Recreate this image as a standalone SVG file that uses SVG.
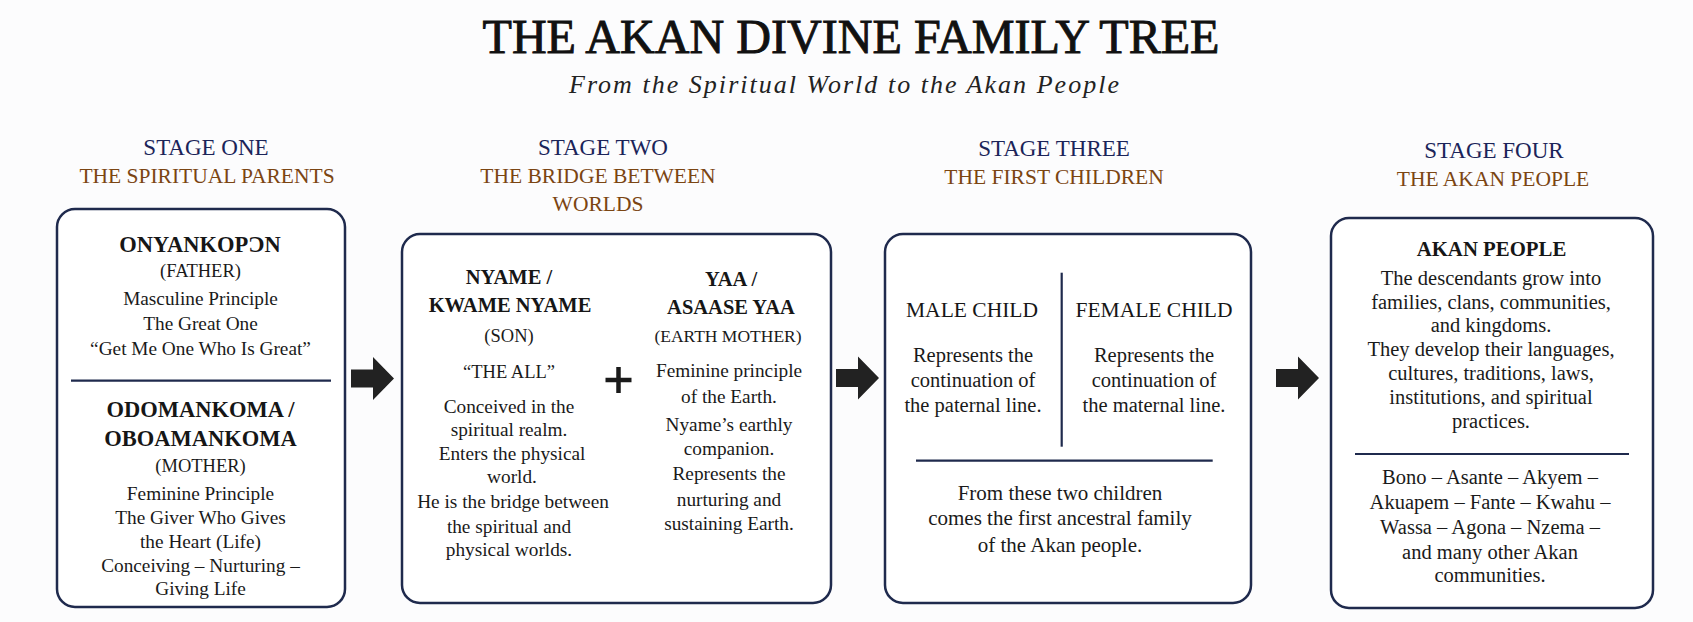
<svg xmlns="http://www.w3.org/2000/svg" width="1693" height="622" viewBox="0 0 1693 622">
<defs>
<style>
.bg{fill:#fcfcfd}
.box{fill:#ffffff;stroke:#1f2a4d;stroke-width:2.5}
.div{stroke:#1f2a4d;stroke-width:2.2}
.t{font-family:"Liberation Serif","Times New Roman",serif;text-anchor:middle;fill:#1a1a1a}
.title{font-size:47.5px;fill:#111;stroke:#111;stroke-width:0.9}
.sub{font-size:26px;font-style:italic;fill:#222}
.sn{font-size:23px;fill:#1b2459}
.st{font-size:21.5px;fill:#7b4512}
.nm{font-size:22.5px;font-weight:bold;fill:#161616}
.nm2{font-size:20.5px;font-weight:bold;fill:#161616}
.par{font-size:18.5px}
.b{font-size:19.3px}
.b2{font-size:20.5px}
.hd{font-size:21.5px;fill:#161616}
.arr{fill:#222}
</style>
<path id="arrow" d="M0,-9 H22 V-21.5 L43,0 L22,21.5 V9 H0 Z"/>
</defs>
<rect class="bg" x="0" y="0" width="1693" height="622"/>

<g id="header">
<text class="t title" x="851" y="53.3" textLength="737" lengthAdjust="spacingAndGlyphs">THE AKAN DIVINE FAMILY TREE</text>
<text class="t sub" x="844" y="92.5" textLength="550" lengthAdjust="spacing">From the Spiritual World to the Akan People</text>
</g>

<g id="stage-labels">
<text class="t sn" x="206" y="155">STAGE ONE</text>
<text class="t st" x="207" y="183">THE SPIRITUAL PARENTS</text>
<text class="t sn" x="603" y="155">STAGE TWO</text>
<text class="t st" x="598" y="183">THE BRIDGE BETWEEN</text>
<text class="t st" x="598" y="211">WORLDS</text>
<text class="t sn" x="1054" y="156">STAGE THREE</text>
<text class="t st" x="1054" y="184">THE FIRST CHILDREN</text>
<text class="t sn" x="1494" y="158">STAGE FOUR</text>
<text class="t st" x="1493" y="186">THE AKAN PEOPLE</text>
</g>

<g id="node-stage1">
<rect class="box" x="57" y="209" width="288" height="398" rx="18"/>
<text class="t nm" x="200" y="251.5">ONYANKOPƆN</text>
<text class="t par" x="200.5" y="277">(FATHER)</text>
<text class="t b" x="200.5" y="305">Masculine Principle</text>
<text class="t b" x="200.5" y="330">The Great One</text>
<text class="t b" x="200.5" y="355">“Get Me One Who Is Great”</text>
<line class="div" x1="71" y1="380.7" x2="331" y2="380.7"/>
<text class="t nm" x="200.5" y="416.5">ODOMANKOMA /</text>
<text class="t nm" x="200.5" y="446">OBOAMANKOMA</text>
<text class="t par" x="200.5" y="471.5">(MOTHER)</text>
<text class="t b" x="200.5" y="500">Feminine Principle</text>
<text class="t b" x="200.5" y="524">The Giver Who Gives</text>
<text class="t b" x="200.5" y="547.5">the Heart (Life)</text>
<text class="t b" x="200.5" y="571.5">Conceiving – Nurturing –</text>
<text class="t b" x="200.5" y="594.5">Giving Life</text>
</g>

<g id="node-stage2">
<rect class="box" x="402" y="234" width="429" height="369" rx="18"/>
<text class="t nm2" x="509" y="283.5">NYAME /</text>
<text class="t nm2" x="510" y="311.5">KWAME NYAME</text>
<text class="t par" x="509" y="341.5">(SON)</text>
<text class="t par" x="509" y="378">“THE ALL”</text>
<text class="t b" x="509" y="412.5">Conceived in the</text>
<text class="t b" x="509" y="435.5">spiritual realm.</text>
<text class="t b" x="512" y="460">Enters the physical</text>
<text class="t b" x="512" y="483">world.</text>
<text class="t b" x="513" y="508">He is the bridge between</text>
<text class="t b" x="509" y="532.5">the spiritual and</text>
<text class="t b" x="509" y="556">physical worlds.</text>
<path d="M618.5,367 V393 M605.5,380 H631.5" stroke="#1a1a1a" stroke-width="4.5" fill="none"/>
<text class="t nm2" x="731" y="285.5">YAA /</text>
<text class="t nm2" x="731" y="314">ASAASE YAA</text>
<text class="t par" x="728" y="341.5" style="font-size:17.5px">(EARTH MOTHER)</text>
<text class="t b" x="729" y="377">Feminine principle</text>
<text class="t b" x="729" y="402.5">of the Earth.</text>
<text class="t b" x="729" y="430.5">Nyame’s earthly</text>
<text class="t b" x="729" y="455">companion.</text>
<text class="t b" x="729" y="480">Represents the</text>
<text class="t b" x="729" y="506">nurturing and</text>
<text class="t b" x="729" y="530">sustaining Earth.</text>
</g>

<g id="node-stage3">
<rect class="box" x="885" y="234" width="366" height="369" rx="18"/>
<line class="div" x1="1061.7" y1="272.7" x2="1061.7" y2="446.7"/>
<text class="t hd" x="972" y="316.5">MALE CHILD</text>
<text class="t hd" x="1154" y="316.5">FEMALE CHILD</text>
<text class="t b2" x="973" y="361.5">Represents the</text>
<text class="t b2" x="973" y="386.5">continuation of</text>
<text class="t b2" x="973" y="411.5">the paternal line.</text>
<text class="t b2" x="1154" y="361.5">Represents the</text>
<text class="t b2" x="1154" y="386.5">continuation of</text>
<text class="t b2" x="1154" y="411.5">the maternal line.</text>
<line class="div" x1="916" y1="460.7" x2="1212.7" y2="460.7"/>
<text class="t b2" x="1060" y="500" style="font-size:21px">From these two children</text>
<text class="t b2" x="1060" y="525" style="font-size:21px">comes the first ancestral family</text>
<text class="t b2" x="1060" y="551.5" style="font-size:21px">of the Akan people.</text>
</g>

<g id="node-stage4">
<rect class="box" x="1331" y="218" width="322" height="390" rx="18"/>
<text class="t nm2" x="1491.5" y="256" style="font-size:20.8px">AKAN PEOPLE</text>
<text class="t b2" x="1491" y="285">The descendants grow into</text>
<text class="t b2" x="1491" y="308.5">families, clans, communities,</text>
<text class="t b2" x="1491" y="331.5">and kingdoms.</text>
<text class="t b2" x="1491" y="356">They develop their languages,</text>
<text class="t b2" x="1491" y="380">cultures, traditions, laws,</text>
<text class="t b2" x="1491" y="404">institutions, and spiritual</text>
<text class="t b2" x="1491" y="427.5">practices.</text>
<line class="div" x1="1355" y1="454" x2="1629" y2="454"/>
<text class="t b2" x="1490" y="483.5">Bono – Asante – Akyem –</text>
<text class="t b2" x="1490" y="508.5">Akuapem – Fante – Kwahu –</text>
<text class="t b2" x="1490" y="533.5">Wassa – Agona – Nzema –</text>
<text class="t b2" x="1490" y="558.5">and many other Akan</text>
<text class="t b2" x="1490" y="581.5">communities.</text>
</g>

<g id="connectors" class="arr">
<use href="#arrow" x="351" y="378.5"/>
<use href="#arrow" x="836" y="378"/>
<use href="#arrow" x="1276" y="378"/>
</g>
</svg>
